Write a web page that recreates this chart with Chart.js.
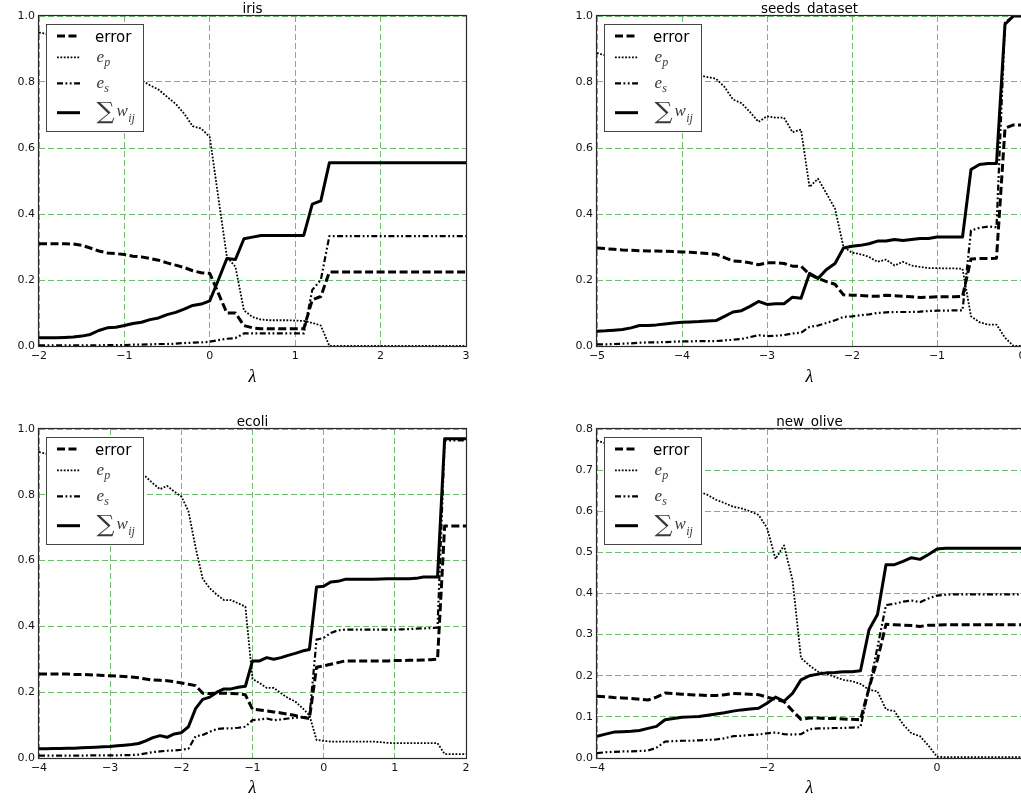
<!DOCTYPE html>
<html><head><meta charset="utf-8">
<script src="https://cdn.jsdelivr.net/npm/chart.js@4/dist/chart.umd.min.js"></script>
<style>
html,body{margin:0;padding:0;width:1021px;height:803px;overflow:hidden;background:#fff;}
body{position:relative;}
canvas{position:absolute;}
</style></head><body>
<canvas id="c0"></canvas><canvas id="c1"></canvas><canvas id="c2"></canvas><canvas id="c3"></canvas>
<script>
// ---------- data ----------
const titles = ['iris', 'seeds_dataset', 'ecoli', 'new_olive'];
const seriesNames = ['error', 'e_p', 'e_s', 'sum w_ij'];
const axisLabel = 'λ';

const irisXTicks = [-2, -1, 0, 1, 2, 3];
const seedsXTicks = [-5, -4, -3, -2, -1, 0];
const ecoliXTicks = [-4, -3, -2, -1, 0, 1, 2];
const oliveXTicks = [-4, -2, 0];
const unitYTicks = [0, 0.2, 0.4, 0.6, 0.8, 1.0];
const oliveYTicks = [0, 0.1, 0.2, 0.3, 0.4, 0.5, 0.6, 0.7, 0.8];

const irisLambda = [-2.0,-1.9,-1.8,-1.7,-1.6,-1.5,-1.4,-1.3,-1.2,-1.1,-1.0,-0.9,-0.8,-0.7,-0.6,-0.5,-0.4,-0.3,-0.2,-0.1,0.0,0.1,0.2,0.3,0.4,0.5,0.6,0.7,0.8,0.9,1.0,1.1,1.2,1.3,1.4,1.5,1.6,1.7,1.8,1.9,2.0,2.1,2.2,2.3,2.4,2.5,2.6,2.7,2.8,2.9,3.0];
const irisError = [0.31,0.31,0.31,0.31,0.309,0.305,0.297,0.288,0.282,0.28, 0.277,0.272,0.27,0.265,0.26,0.252,0.245,0.238,0.228,0.222, 0.22,0.16,0.1,0.1,0.062,0.055,0.052,0.052,0.052,0.052, 0.052,0.052,0.14,0.15,0.224,0.224,0.224,0.224,0.224,0.224, 0.224,0.224,0.224,0.224,0.224,0.224,0.224,0.224,0.224,0.224, 0.224];
const irisEp = [0.95,0.945,0.94,0.93,0.92,0.91,0.895,0.88,0.865,0.85, 0.835,0.82,0.805,0.79,0.777,0.755,0.734,0.704,0.666,0.659, 0.633,0.45,0.27,0.24,0.108,0.088,0.08,0.078,0.078,0.078, 0.077,0.076,0.07,0.062,0,0,0,0,0,0, 0,0,0,0,0,0,0,0,0,0, 0];
const irisEs = [0.002,0.002,0.002,0.002,0.002,0.002,0.002,0.002,0.003,0.003, 0.003,0.004,0.004,0.005,0.006,0.006,0.007,0.009,0.01,0.011, 0.013,0.018,0.022,0.024,0.038,0.038,0.038,0.038,0.038,0.038, 0.038,0.038,0.17,0.2,0.333,0.333,0.333,0.333,0.333,0.333, 0.333,0.333,0.333,0.333,0.333,0.333,0.333,0.333,0.333,0.333, 0.333];
const irisSumW = [0.025,0.025,0.025,0.026,0.027,0.03,0.035,0.047,0.055,0.057, 0.062,0.068,0.072,0.08,0.085,0.095,0.102,0.112,0.123,0.127, 0.137,0.2,0.265,0.262,0.325,0.33,0.335,0.335,0.335,0.335, 0.335,0.335,0.43,0.44,0.555,0.555,0.555,0.555,0.555,0.555, 0.555,0.555,0.555,0.555,0.555,0.555,0.555,0.555,0.555,0.555, 0.555];

const seedsLambda = [-5.0,-4.9,-4.8,-4.7,-4.6,-4.5,-4.4,-4.3,-4.2,-4.1,-4.0,-3.9,-3.8,-3.7,-3.6,-3.5,-3.4,-3.3,-3.2,-3.1,-3.0,-2.9,-2.8,-2.7,-2.6,-2.5,-2.4,-2.3,-2.2,-2.1,-2.0,-1.9,-1.8,-1.7,-1.6,-1.5,-1.4,-1.3,-1.2,-1.1,-1.0,-0.9,-0.8,-0.7,-0.6,-0.5,-0.4,-0.3,-0.2,-0.1,0.0];
const seedsError = [0.297,0.295,0.293,0.291,0.29,0.289,0.288,0.288,0.287,0.286, 0.285,0.284,0.282,0.28,0.278,0.268,0.258,0.256,0.252,0.246, 0.252,0.252,0.25,0.242,0.242,0.217,0.205,0.195,0.187,0.155, 0.154,0.153,0.151,0.151,0.154,0.152,0.151,0.149,0.147,0.148, 0.149,0.149,0.149,0.15,0.264,0.265,0.265,0.266,0.66,0.67, 0.67];
const seedsEp = [0.888,0.88,0.875,0.87,0.865,0.86,0.855,0.85,0.845,0.84, 0.835,0.828,0.82,0.815,0.81,0.785,0.747,0.736,0.709,0.679, 0.696,0.692,0.692,0.648,0.656,0.482,0.507,0.462,0.416,0.3, 0.283,0.278,0.27,0.255,0.262,0.244,0.255,0.244,0.24,0.236, 0.236,0.235,0.235,0.234,0.09,0.072,0.065,0.065,0.025,0, 0];
const seedsEs = [0.005,0.005,0.006,0.007,0.008,0.01,0.011,0.011,0.012,0.013, 0.014,0.014,0.015,0.015,0.015,0.017,0.019,0.021,0.027,0.033, 0.03,0.031,0.033,0.038,0.04,0.058,0.062,0.07,0.078,0.088, 0.09,0.093,0.096,0.1,0.102,0.103,0.103,0.103,0.104,0.106, 0.107,0.107,0.108,0.108,0.35,0.358,0.362,0.36,0.98,1.0, 1.0];
const seedsSumW = [0.045,0.046,0.048,0.05,0.055,0.062,0.062,0.064,0.067,0.07, 0.072,0.073,0.074,0.076,0.077,0.09,0.103,0.107,0.12,0.135, 0.126,0.128,0.128,0.148,0.145,0.22,0.205,0.232,0.25,0.297, 0.302,0.305,0.31,0.318,0.318,0.323,0.32,0.323,0.326,0.326, 0.33,0.33,0.33,0.33,0.535,0.55,0.553,0.553,0.975,1.0, 1.0];

const ecoliLambda = [-4.0,-3.9,-3.8,-3.7,-3.6,-3.5,-3.4,-3.3,-3.2,-3.1,-3.0,-2.9,-2.8,-2.7,-2.6,-2.5,-2.4,-2.3,-2.2,-2.1,-2.0,-1.9,-1.8,-1.7,-1.6,-1.5,-1.4,-1.3,-1.2,-1.1,-1.0,-0.9,-0.8,-0.7,-0.6,-0.5,-0.4,-0.3,-0.2,-0.1,0.0,0.1,0.2,0.3,0.4,0.5,0.6,0.7,0.8,0.9,1.0,1.1,1.2,1.3,1.4,1.5,1.6,1.7,1.8,1.9,2.0];
const ecoliError = [0.255,0.255,0.255,0.255,0.255,0.254,0.254,0.253,0.252,0.251, 0.25,0.249,0.248,0.246,0.244,0.24,0.237,0.236,0.235,0.232, 0.228,0.224,0.22,0.197,0.196,0.197,0.197,0.196,0.195,0.192, 0.148,0.146,0.143,0.14,0.137,0.133,0.129,0.124,0.12,0.276, 0.28,0.285,0.29,0.295,0.295,0.295,0.295,0.295,0.295,0.295, 0.296,0.296,0.297,0.297,0.298,0.299,0.3,0.705,0.705,0.705, 0.705];
const ecoliEp = [0.93,0.925,0.92,0.915,0.91,0.905,0.9,0.895,0.89,0.885, 0.88,0.875,0.87,0.865,0.86,0.855,0.835,0.817,0.827,0.81, 0.795,0.75,0.64,0.545,0.516,0.496,0.48,0.48,0.47,0.46, 0.24,0.228,0.213,0.213,0.197,0.182,0.172,0.152,0.13,0.055, 0.052,0.05,0.05,0.05,0.05,0.05,0.05,0.05,0.048,0.046, 0.045,0.045,0.045,0.045,0.045,0.045,0.045,0.012,0.012,0.012, 0.012];
const ecoliEs = [0.007,0.007,0.007,0.007,0.007,0.007,0.007,0.008,0.008,0.008, 0.008,0.008,0.009,0.009,0.01,0.014,0.018,0.02,0.022,0.023, 0.025,0.028,0.066,0.07,0.08,0.088,0.09,0.09,0.092,0.095, 0.115,0.117,0.12,0.115,0.117,0.12,0.122,0.124,0.125,0.36, 0.365,0.38,0.388,0.39,0.39,0.39,0.39,0.39,0.39,0.39, 0.39,0.391,0.392,0.393,0.394,0.395,0.396,0.965,0.965,0.965, 0.965];
const ecoliSumW = [0.028,0.028,0.029,0.029,0.03,0.03,0.031,0.032,0.033,0.034, 0.035,0.037,0.039,0.041,0.044,0.052,0.062,0.068,0.063,0.073, 0.077,0.095,0.15,0.178,0.185,0.2,0.21,0.21,0.215,0.218, 0.295,0.295,0.305,0.3,0.305,0.312,0.318,0.325,0.33,0.52, 0.522,0.535,0.537,0.543,0.543,0.543,0.543,0.543,0.544,0.545, 0.545,0.545,0.545,0.546,0.55,0.55,0.55,0.97,0.97,0.97, 0.97];

const oliveLambda = [-4.0,-3.9,-3.8,-3.7,-3.6,-3.5,-3.4,-3.3,-3.2,-3.1,-3.0,-2.9,-2.8,-2.7,-2.6,-2.5,-2.4,-2.3,-2.2,-2.1,-2.0,-1.9,-1.8,-1.7,-1.6,-1.5,-1.4,-1.3,-1.2,-1.1,-1.0,-0.9,-0.8,-0.7,-0.6,-0.5,-0.4,-0.3,-0.2,-0.1,0.0,0.1,0.2,0.3,0.4,0.5,0.6,0.7,0.8,0.9,1.0];
const oliveError = [0.15,0.149,0.147,0.146,0.145,0.143,0.141,0.148,0.158,0.157, 0.155,0.154,0.153,0.152,0.152,0.154,0.157,0.156,0.155,0.154, 0.148,0.143,0.137,0.115,0.094,0.097,0.097,0.096,0.096,0.095, 0.094,0.093,0.17,0.24,0.325,0.324,0.323,0.322,0.32,0.323, 0.323,0.324,0.324,0.324,0.324,0.324,0.324,0.324,0.324,0.324, 0.324];
const oliveEp = [0.772,0.765,0.755,0.745,0.735,0.725,0.715,0.705,0.695,0.685, 0.675,0.662,0.648,0.64,0.628,0.62,0.611,0.607,0.6,0.591, 0.56,0.484,0.517,0.433,0.243,0.225,0.21,0.205,0.197,0.19, 0.187,0.18,0.166,0.162,0.118,0.114,0.082,0.06,0.053,0.03, 0.003,0.002,0.002,0.002,0.002,0.002,0.002,0.002,0.002,0.002, 0.002];
const oliveEs = [0.012,0.014,0.015,0.016,0.016,0.017,0.018,0.025,0.04,0.041, 0.042,0.042,0.043,0.044,0.045,0.048,0.053,0.054,0.056,0.057, 0.06,0.062,0.058,0.057,0.058,0.07,0.072,0.072,0.073,0.073, 0.074,0.075,0.17,0.27,0.372,0.375,0.38,0.383,0.379,0.388, 0.395,0.397,0.398,0.398,0.398,0.398,0.398,0.398,0.398,0.398, 0.398];
const oliveSumW = [0.053,0.058,0.063,0.064,0.065,0.067,0.072,0.077,0.093,0.096, 0.099,0.1,0.101,0.104,0.107,0.11,0.114,0.117,0.119,0.121, 0.133,0.148,0.138,0.157,0.19,0.2,0.204,0.207,0.208,0.21, 0.21,0.212,0.312,0.349,0.47,0.47,0.478,0.487,0.483,0.495, 0.508,0.51,0.51,0.51,0.51,0.51,0.51,0.51,0.51,0.51, 0.51];

// ---------- styles / layout ----------
const seriesStyle = [
  {dash: [8, 3.5], width: 3},
  {dash: [1.8, 1.6], width: 1.8},
  {dash: [6, 2.5, 1.8, 2.5, 1.8, 2.5], width: 2.2},
  {dash: [], width: 3}
];
const gridColor = 'rgb(110,190,110)';
const gridDash = [6, 3];
const Y_AXIS_W = 39, TITLE_H = 16, RIGHT_PAD = 44, CANVAS_H = 400;

const panels = [
  {canvas: 'c0', title: titles[0], lambda: irisLambda, series: [irisError, irisEp, irisEs, irisSumW], xMin: -2, xMax: 3, xTicks: irisXTicks, yMax: 1, yTicks: unitYTicks, area: {left: 39, top: 16, right: 466, bottom: 346}, lambdaY: 377},
  {canvas: 'c1', title: titles[1], lambda: seedsLambda, series: [seedsError, seedsEp, seedsEs, seedsSumW], xMin: -5, xMax: 0, xTicks: seedsXTicks, yMax: 1, yTicks: unitYTicks, area: {left: 597, top: 16, right: 1022, bottom: 346}, lambdaY: 377},
  {canvas: 'c2', title: titles[2], lambda: ecoliLambda, series: [ecoliError, ecoliEp, ecoliEs, ecoliSumW], xMin: -4, xMax: 2, xTicks: ecoliXTicks, yMax: 1, yTicks: unitYTicks, area: {left: 39, top: 429, right: 466, bottom: 758}, lambdaY: 788},
  {canvas: 'c3', title: titles[3], lambda: oliveLambda, series: [oliveError, oliveEp, oliveEs, oliveSumW], xMin: -4, xMax: 1, xTicks: oliveXTicks, yMax: 0.8, yTicks: oliveYTicks, area: {left: 597, top: 429, right: 1022, bottom: 758}, lambdaY: 788}
];

Chart.defaults.font.family = '"DejaVu Sans", sans-serif';
Chart.defaults.color = '#111';

function fmtX(v) { return String(v).replace('-', '\u2212'); }

const mplFrameLegend = {
  id: 'mplFrameLegend',
  afterDatasetsDraw(chart) {
    const {ctx, chartArea: a} = chart;
    ctx.save();
    // axes frame
    ctx.setLineDash([]);
    ctx.strokeStyle = '#2a2a2a';
    ctx.lineWidth = 1.2;
    ctx.strokeRect(a.left - 0.5, a.top - 0.5, a.right - a.left + 1, a.bottom - a.top + 1);
    // legend box
    const lx = Math.round(a.left) + 7, ly = Math.round(a.top) + 8;
    ctx.fillStyle = '#fff';
    ctx.fillRect(lx, ly, 98, 108);
    ctx.strokeStyle = '#444';
    ctx.lineWidth = 1;
    ctx.strokeRect(lx + 0.5, ly + 0.5, 97, 107);
    const rows = [20, 41.3, 67.3, 96.7];
    chart.data.datasets.forEach((ds, k) => {
      const y = a.top + rows[k];
      ctx.beginPath();
      ctx.setLineDash(ds.borderDash);
      ctx.lineWidth = ds.borderWidth;
      ctx.strokeStyle = '#000';
      ctx.lineCap = 'butt';
      ctx.moveTo(a.left + 18, y);
      ctx.lineTo(a.left + 41, y);
      ctx.stroke();
    });
    ctx.setLineDash([]);
    const tx = a.left + 56;
    ctx.textAlign = 'left';
    ctx.textBaseline = 'alphabetic';
    // error
    ctx.fillStyle = '#000';
    ctx.font = '15px "DejaVu Sans"';
    ctx.fillText(seriesNames[0], tx, a.top + 25.5);
    // math labels
    ctx.fillStyle = '#3a3a3a';
    const big = 'italic 17px "Liberation Serif"', small = 'italic 12px "Liberation Serif"';
    ctx.font = big;
    ctx.fillText('e', tx + 1.5, a.top + 45.5);
    let w = ctx.measureText('e').width;
    ctx.font = small;
    ctx.fillText('p', tx + 1.5 + w + 0.2, a.top + 49.5);
    ctx.font = big;
    ctx.fillText('e', tx + 1.5, a.top + 72);
    ctx.font = small;
    ctx.fillText('s', tx + 1.5 + w + 0.2, a.top + 75.5);
    // sum sign scaled into a 20x22 box
    ctx.font = '20px "DejaVu Serif"';
    const m = ctx.measureText('\u2211');
    const gw = m.actualBoundingBoxLeft + m.actualBoundingBoxRight;
    const gh = m.actualBoundingBoxAscent + m.actualBoundingBoxDescent;
    const sx = 19 / gw, sy = 22.5 / gh;
    ctx.save();
    ctx.translate(tx + 1.5, a.top + 85.5);
    ctx.scale(sx, sy);
    ctx.fillText('\u2211', m.actualBoundingBoxLeft, m.actualBoundingBoxAscent);
    ctx.restore();
    ctx.font = big;
    ctx.fillText('w', tx + 21.5, a.top + 99.5);
    const ww = ctx.measureText('w').width;
    ctx.font = small;
    ctx.fillText('ij', tx + 21.5 + ww + 0.3, a.top + 106);
    ctx.restore();
  }
};

panels.forEach(p => {
  const cv = document.getElementById(p.canvas);
  const W = p.area.right - p.area.left + Y_AXIS_W + RIGHT_PAD;
  const top = p.area.top - TITLE_H;
  cv.width = W; cv.height = CANVAS_H;
  cv.style.left = (p.area.left - Y_AXIS_W) + 'px';
  cv.style.top = top + 'px';
  cv.style.width = W + 'px'; cv.style.height = CANVAS_H + 'px';
  const xh = CANVAS_H - TITLE_H - (p.area.bottom - p.area.top);
  const pb = (top + CANVAS_H) - p.lambdaY - 9;

  new Chart(cv, {
    type: 'line',
    data: {
      datasets: p.series.map((ys, k) => ({
        label: seriesNames[k],
        data: p.lambda.map((x, i) => ({x: x, y: ys[i]})),
        borderColor: '#000',
        borderWidth: seriesStyle[k].width,
        borderDash: seriesStyle[k].dash,
        borderCapStyle: 'butt',
        borderJoinStyle: 'round',
        pointRadius: 0,
        pointHoverRadius: 0,
        tension: 0,
        fill: false,
        order: 3 - k
      }))
    },
    options: {
      responsive: false,
      animation: false,
      devicePixelRatio: 1,
      events: [],
      layout: {padding: {left: 0, right: RIGHT_PAD, top: 0, bottom: 0}},
      plugins: {
        legend: {display: false},
        tooltip: {enabled: false},
        title: {
          display: true, text: p.title, fullSize: false, color: '#000',
          font: {family: '"DejaVu Sans"', size: 13.5, weight: 'normal', lineHeight: '14px'},
          padding: {top: 2, bottom: 0}
        }
      },
      scales: {
        x: {
          type: 'linear', min: p.xMin, max: p.xMax,
          afterBuildTicks: s => { s.ticks = p.xTicks.map(v => ({value: v})); },
          afterFit: s => { s.height = xh; },
          grid: {color: gridColor, lineWidth: 1, drawTicks: false},
          border: {display: false, dash: gridDash},
          ticks: {padding: 4, autoSkip: false, maxRotation: 0, color: '#111',
                  font: {size: 11, lineHeight: 1.2}, callback: v => fmtX(v)},
          title: {display: true, text: axisLabel, color: '#000',
                  font: {family: '"Liberation Serif"', style: 'italic', size: 18, lineHeight: '18px'},
                  padding: {top: 0, bottom: pb}}
        },
        y: {
          type: 'linear', min: 0, max: p.yMax,
          afterBuildTicks: s => { s.ticks = p.yTicks.map(v => ({value: v})); },
          afterFit: s => { s.width = Y_AXIS_W; },
          grid: {color: gridColor, lineWidth: 1, drawTicks: false},
          border: {display: false, dash: gridDash},
          ticks: {padding: 4, autoSkip: false, color: '#111',
                  font: {size: 11, lineHeight: 1.2}, callback: v => Number(v).toFixed(1)}
        }
      }
    },
    plugins: [mplFrameLegend]
  });
});
</script>
</body></html>
